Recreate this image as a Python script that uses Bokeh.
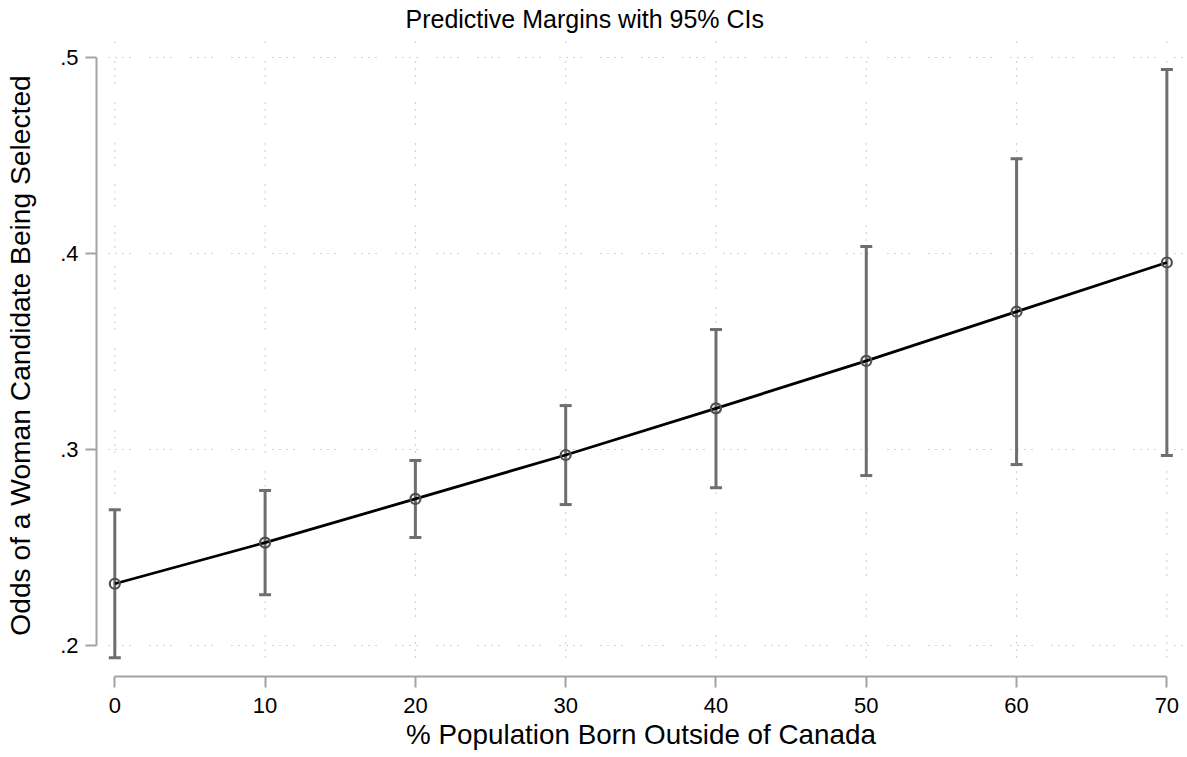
from bokeh.plotting import figure
from bokeh.models import Range1d, FixedTicker, ColumnDataSource, Whisker, TeeHead
from bokeh.embed import file_html
from bokeh.resources import INLINE

# Predictive margins with 95% confidence intervals
pct_foreign_born = [0, 10, 20, 30, 40, 50, 60, 70]
margin = [0.2315, 0.2525, 0.2748, 0.2972, 0.3210, 0.3452, 0.3703, 0.3954]
ci_lower = [0.1937, 0.2259, 0.2551, 0.2719, 0.2805, 0.2867, 0.2923, 0.2969]
ci_upper = [0.2692, 0.2791, 0.2944, 0.3224, 0.3612, 0.4036, 0.4483, 0.4939]

x_ticks = [0, 10, 20, 30, 40, 50, 60, 70]
y_ticks = [0.2, 0.3, 0.4, 0.5]
y_tick_labels = [".2", ".3", ".4", ".5"]

FONT = "Liberation Sans"
AXIS_GREY = "#a3a3a3"
BAR_GREY = "#6e6e6e"

src = ColumnDataSource(data=dict(x=pct_foreign_born, y=margin,
                                 lower=ci_lower, upper=ci_upper))

p = figure(width=1187, height=757,
           x_range=Range1d(-1.218, 71.24), y_range=Range1d(0.18418, 0.51173),
           output_backend="svg", toolbar_location=None,
           min_border_left=96, min_border_right=2,
           min_border_top=34, min_border_bottom=81)
p.outline_line_color = None
p.xgrid.visible = False
p.ygrid.visible = False

# plot region (slightly wider than the axis bounds)
reg_x0, reg_x1 = -0.42, 71.1
reg_y0, reg_y1 = 0.1939, 0.5107
grid_style = dict(line_color="#a8a8a8", line_width=1.2,
                  line_dash="1 6 1 6 1 6 1 19")
vg = p.segment(x0=x_ticks, x1=x_ticks, y0=[reg_y0] * len(x_ticks),
               y1=[reg_y1] * len(x_ticks), **grid_style)
hg = p.segment(x0=[reg_x0] * len(y_ticks), x1=[reg_x1] * len(y_ticks),
               y0=y_ticks, y1=y_ticks, **grid_style)
vg.level = "underlay"
hg.level = "underlay"

# confidence intervals
head = dict(size=12, line_color=BAR_GREY, line_width=3)
ci = Whisker(source=src, base="x", lower="lower", upper="upper",
             line_color=BAR_GREY, line_width=3,
             lower_head=TeeHead(**head), upper_head=TeeHead(**head))
ci.level = "underlay"
p.add_layout(ci)

# margins line and markers
p.line("x", "y", source=src, line_color="black", line_width=2.8)
p.scatter("x", "y", source=src, marker="circle", size=10,
          fill_color=None, line_color="#505050", line_width=2.2)

# axes
for ax in (p.xaxis[0], p.yaxis[0]):
    ax.axis_line_color = AXIS_GREY
    ax.axis_line_width = 2
    ax.major_tick_line_color = AXIS_GREY
    ax.major_tick_line_width = 2
    ax.major_tick_out = 11
    ax.major_tick_in = 0
    ax.minor_tick_line_color = None
    ax.major_label_text_font = FONT
    ax.major_label_text_font_size = "22px"
    ax.major_label_text_color = "black"
    ax.axis_label_text_font = FONT
    ax.axis_label_text_font_style = "normal"
    ax.axis_label_text_color = "black"

p.xaxis.bounds = (x_ticks[0], x_ticks[-1])
p.xaxis.ticker = FixedTicker(ticks=x_ticks)
p.xaxis.major_label_standoff = 10
p.xaxis.axis_label = "% Population Born Outside of Canada"
p.xaxis.axis_label_text_font_size = "27.8px"
p.xaxis.axis_label_standoff = 3

p.yaxis.bounds = (y_ticks[0], y_ticks[-1])
p.yaxis.ticker = FixedTicker(ticks=y_ticks)
p.yaxis.major_label_overrides = dict(zip(y_ticks, y_tick_labels))
p.yaxis.major_label_standoff = 7
p.yaxis.axis_label = "Odds of a Woman Candidate Being Selected"
p.yaxis.axis_label_text_font_size = "28.2px"
p.yaxis.axis_label_standoff = 21

p.title.text = "Predictive Margins with 95% CIs"
p.title.text_font = FONT
p.title.text_font_size = "25px"
p.title.text_font_style = "normal"
p.title.text_color = "black"
p.title.align = "left"
p.title.offset = 309
p.title.standoff = 4

open("out.html", "w").write(file_html(p, INLINE))
